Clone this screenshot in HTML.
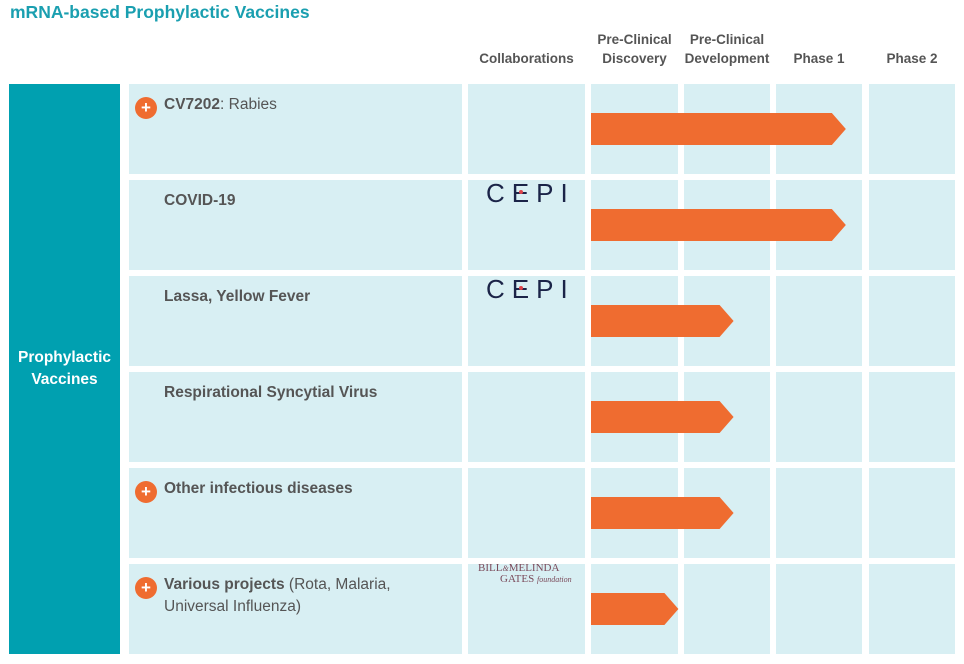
<!DOCTYPE html>
<html><head><meta charset="utf-8"><style>
body{margin:0;width:964px;height:664px;background:#fff;font-family:"Liberation Sans",sans-serif;position:relative;overflow:hidden}
.a{position:absolute}
.cell{position:absolute;background:#d8eff3}
.hd{position:absolute;font-size:13.5px;font-weight:bold;color:#555;text-align:center;line-height:19px}
.nm{position:absolute;font-size:15.5px;color:#555;line-height:22px}
.plus{position:absolute;width:22px;height:22px;border-radius:50%;background:#ef6c30;color:#fff;font-weight:bold;font-size:17px;line-height:21px;text-align:center}
.cepi{position:absolute;font-size:26px;letter-spacing:7px;color:#1b2448;font-family:"Liberation Sans",sans-serif;line-height:28px}
</style></head><body>
<div class="a" style="left:10px;top:0px;font-size:17.5px;font-weight:bold;color:#1a9fb0;line-height:24px">mRNA-based Prophylactic Vaccines</div>
<div class="hd" style="left:468px;top:49px;width:117px">Collaborations</div>
<div class="hd" style="left:585px;top:30px;width:99px">Pre-Clinical<br>Discovery</div>
<div class="hd" style="left:674px;top:30px;width:106px">Pre-Clinical<br>Development</div>
<div class="hd" style="left:776px;top:49px;width:86px">Phase 1</div>
<div class="hd" style="left:869px;top:49px;width:86px">Phase 2</div>
<div class="a" style="left:9px;top:84px;width:111px;height:570px;background:#00a0b0;color:#fff;font-weight:bold;font-size:15.5px;display:flex;align-items:center;justify-content:center;text-align:center;line-height:22px">Prophylactic<br>Vaccines</div>
<div id="rows"></div>
<svg class="a" id="arr" style="left:0;top:0" width="964" height="664"></svg>
<script>
const names=["<b>CV7202</b>: Rabies","<b>COVID-19</b>","<b>Lassa, Yellow Fever</b>","<b>Respirational Syncytial Virus</b>","<b>Other infectious diseases</b>","<b>Various projects</b> (Rota, Malaria,<br>Universal Influenza)"];
const hasPlus=[1,0,0,0,1,1];
const collab=["","CEPI","CEPI","","","GATES"];
const progress=[2.77,2.77,1.55,1.55,1.55,0.95];
const colX=[[129,462],[468,585],[591,678],[684,770],[776,862],[869,955]];
const rowTop=i=>84+i*96;
const xScale=v=>591+v*92;
const R=document.getElementById('rows');
const svg=document.getElementById('arr');
names.forEach((n,i)=>{
  const t=rowTop(i);
  colX.forEach((c,j)=>{
    const d=document.createElement('div');d.className='cell';
    
    
    d.style.cssText=`left:${c[0]}px;top:${t}px;width:${c[1]-c[0]}px;height:90px`;R.appendChild(d);
  });
  const l=document.createElement('div');l.className='nm';
  
  
  l.style.cssText=`left:164px;top:${t+10}px`;l.innerHTML=n;R.appendChild(l);
  if(hasPlus[i]){const p=document.createElement('div');p.className='plus';
    
    
    p.style.cssText=`left:135px;top:${t+13}px`;p.textContent='+';R.appendChild(p);}
  if(collab[i]==='CEPI'){const c=document.createElement('div');c.className='cepi';
    
    
    c.style.cssText=`left:486px;top:${t-1}px`;c.innerHTML='C<span style="position:relative">E<span style="position:absolute;left:7px;top:12px;width:4px;height:4px;border-radius:50%;background:#e0454b"></span></span>PI';R.appendChild(c);}
  if(collab[i]==='GATES'){const c=document.createElement('div');
    
    
    c.style.cssText=`position:absolute;left:478px;top:${t-1}px;font-family:"Liberation Serif",serif;color:#7a4a5a;font-size:11px;line-height:11px`;
    c.innerHTML='BILL<i style="font-size:8px">&amp;</i>MELINDA<br><span style="margin-left:22px">GATES <i style="font-size:8px">foundation</i></span>';R.appendChild(c);}
  const x0=591,x1=xScale(progress[i]),y0=t+29,y1=t+61;
  const p=document.createElementNS('http://www.w3.org/2000/svg','polygon');
  
  
  p.setAttribute('points',`${x0},${y0} ${x1-14},${y0} ${x1},${(y0+y1)/2} ${x1-14},${y1} ${x0},${y1}`);
  p.setAttribute('fill','#ef6c30');svg.appendChild(p);
});
</script>
</body></html>
